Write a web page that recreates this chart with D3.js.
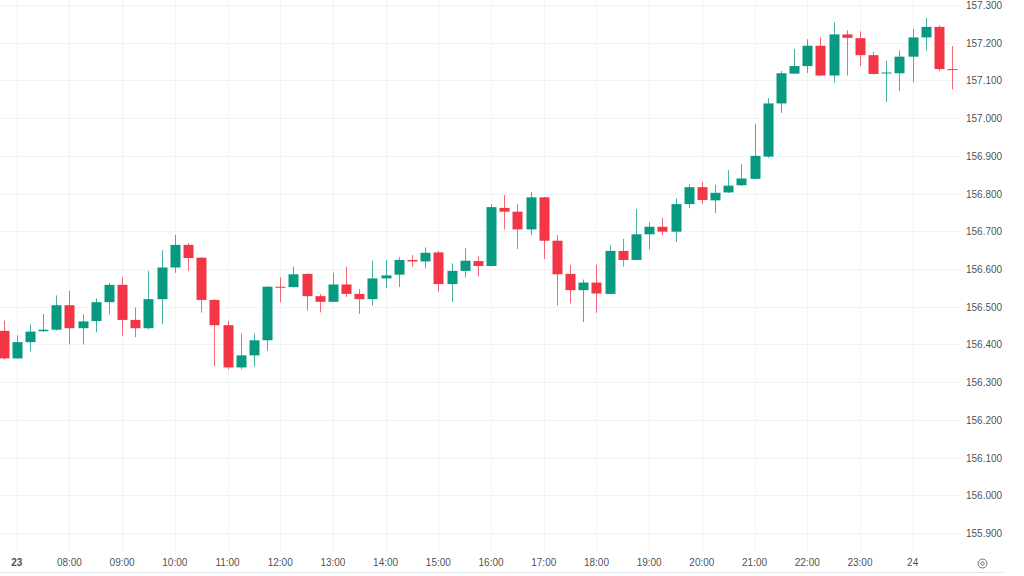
<!DOCTYPE html>
<html>
<head>
<meta charset="utf-8">
<script src="https://cdn.jsdelivr.net/npm/d3@7"></script>
<style>
  html, body { margin: 0; padding: 0; background: #ffffff; }
  svg { display: block; }
  text { font-family: "Liberation Sans", Arial, sans-serif; }
</style>
</head>
<body>
<svg id="chart" width="1024" height="576"></svg>
<script>
// ---- data (15-minute bars) ----
const times = [
  "06:45","07:00","07:15","07:30","07:45","08:00","08:15","08:30","08:45",
  "09:00","09:15","09:30","09:45","10:00","10:15","10:30","10:45",
  "11:00","11:15","11:30","11:45","12:00","12:15","12:30","12:45",
  "13:00","13:15","13:30","13:45","14:00","14:15","14:30","14:45",
  "15:00","15:15","15:30","15:45","16:00","16:15","16:30","16:45",
  "17:00","17:15","17:30","17:45","18:00","18:15","18:30","18:45",
  "19:00","19:15","19:30","19:45","20:00","20:15","20:30","20:45",
  "21:00","21:15","21:30","21:45","22:00","22:15","22:30","22:45",
  "23:00","23:15","23:30","23:45","00:00","00:15","00:30","00:45"
];
const open = [
  156.436,156.363,156.406,156.435,156.439,156.504,156.443,156.462,156.512,
  156.558,156.465,156.443,156.520,156.604,156.664,156.630,156.518,
  156.451,156.339,156.371,156.411,156.553,156.552,156.587,156.528,
  156.513,156.559,156.534,156.520,156.575,156.585,156.624,156.620,
  156.644,156.560,156.595,156.621,156.608,156.762,156.752,156.705,
  156.790,156.675,156.587,156.544,156.564,156.534,156.648,156.624,
  156.692,156.712,156.699,156.772,156.817,156.782,156.803,156.822,
  156.839,156.898,157.039,157.118,157.138,157.192,157.113,157.222,
  157.212,157.167,157.119,157.119,157.163,157.214,157.242,157.130
];
const high = [
  156.463,156.424,156.453,156.481,156.530,156.542,156.480,156.522,156.563,
  156.578,156.498,156.595,156.650,156.690,156.668,156.632,156.520,
  156.463,156.429,156.429,156.555,156.578,156.606,156.588,156.534,
  156.590,156.606,156.547,156.622,156.624,156.631,156.637,156.657,
  156.648,156.615,156.655,156.634,156.772,156.796,156.772,156.804,
  156.791,156.690,156.611,156.572,156.611,156.662,156.680,156.759,
  156.724,156.736,156.787,156.825,156.831,156.823,156.862,156.878,
  156.984,157.053,157.125,157.183,157.209,157.214,157.254,157.233,
  157.230,157.176,157.152,157.179,157.236,157.265,157.246,157.191
];
const low = [
  156.360,156.362,156.381,156.434,156.437,156.400,156.400,156.432,156.480,
  156.423,156.419,156.440,156.453,156.590,156.595,156.484,156.343,
  156.334,156.334,156.341,156.383,156.512,156.551,156.490,156.485,
  156.512,156.526,156.481,156.503,156.549,156.552,156.606,156.602,
  156.540,156.513,156.578,156.580,156.607,156.705,156.653,156.690,
  156.626,156.503,156.509,156.459,156.484,156.533,156.606,156.623,
  156.652,156.690,156.672,156.761,156.772,156.748,156.802,156.821,
  156.838,156.895,157.014,157.117,157.120,157.112,157.095,157.113,
  157.138,157.116,157.043,157.072,157.095,157.179,157.125,157.076
];
const close = [
  156.363,156.406,156.434,156.439,156.504,156.443,156.461,156.512,156.558,
  156.465,156.443,156.520,156.604,156.664,156.629,156.518,156.451,
  156.339,156.371,156.411,156.553,156.551,156.586,156.528,156.513,
  156.559,156.534,156.520,156.575,156.583,156.624,156.620,156.643,
  156.560,156.595,156.622,156.608,156.764,156.752,156.705,156.790,
  156.675,156.586,156.544,156.564,156.535,156.648,156.624,156.692,
  156.712,156.699,156.772,156.817,156.783,156.802,156.821,156.840,
  156.900,157.039,157.119,157.138,157.192,157.113,157.222,157.213,
  157.167,157.117,157.121,157.163,157.214,157.242,157.130,157.129
];
const timeTicks = ["07:00","08:00","09:00","10:00","11:00","12:00","13:00","14:00","15:00",
                   "16:00","17:00","18:00","19:00","20:00","21:00","22:00","23:00","00:00"];
const timeTickLabels = ["23","08:00","09:00","10:00","11:00","12:00","13:00","14:00","15:00",
                        "16:00","17:00","18:00","19:00","20:00","21:00","22:00","23:00","24"];
const priceTicks = [155.9,156.0,156.1,156.2,156.3,156.4,156.5,156.6,156.7,156.8,156.9,157.0,157.1,157.2,157.3];

// ---- layout ----
const W = 1024, H = 576;
const paneRight = 960, paneBottom = 552;
const UP = "#089981", DOWN = "#F23645", GRID = "#f0f3fa", TXT = "#131722";

const bars = times.map((t, i) => ({ t, o: open[i], h: high[i], l: low[i], c: close[i] }));

const step = 13.176;
const x = d3.scaleBand()
  .domain(times)
  .range([16.7 - step * 1.5, 16.7 - step * 1.5 + step * times.length])
  .padding(0);
const cx = t => x(t) + x.bandwidth() / 2;
const bodyW = 10;

const y = d3.scaleLinear().domain([155.9, 157.3]).range([533, 5]);

const svg = d3.select("#chart");
svg.append("rect").attr("width", W).attr("height", H).attr("fill", "#fff");

// grid
const grid = svg.append("g");
grid.selectAll("line.h").data(priceTicks).join("line")
  .attr("x1", 0).attr("x2", paneRight)
  .attr("y1", d => Math.round(y(d)) + 0.5).attr("y2", d => Math.round(y(d)) + 0.5)
  .attr("stroke", GRID).attr("stroke-width", 1);
grid.selectAll("line.v").data(timeTicks).join("line")
  .attr("x1", d => Math.round(cx(d)) + 0.5).attr("x2", d => Math.round(cx(d)) + 0.5)
  .attr("y1", 0).attr("y2", paneBottom)
  .attr("stroke", GRID).attr("stroke-width", 1);

// candles
const cg = svg.append("g");
const col = d => d.c >= d.o ? UP : DOWN;
cg.selectAll("line.wick").data(bars).join("line")
  .attr("x1", d => Math.round(cx(d.t)) + 0.5).attr("x2", d => Math.round(cx(d.t)) + 0.5)
  .attr("y1", d => y(d.h)).attr("y2", d => y(d.l))
  .attr("stroke", col).attr("stroke-width", 1).attr("stroke-opacity", 0.75);
cg.selectAll("rect.body").data(bars).join("rect")
  .attr("x", d => Math.round(cx(d.t)) - bodyW / 2 + 0.5)
  .attr("width", bodyW)
  .attr("y", d => y(Math.max(d.o, d.c)))
  .attr("height", d => Math.max(1, Math.abs(y(d.o) - y(d.c))))
  .attr("fill", col);

// price axis
const yAxis = d3.axisRight(y).tickValues(priceTicks).tickFormat(d3.format(".3f")).tickSize(0).tickPadding(0);
const ya = svg.append("g").attr("transform", `translate(966,0)`).call(yAxis);
ya.select(".domain").remove();
ya.selectAll("text").attr("fill", TXT).attr("font-size", 10).attr("dy", "0.35em").attr("fill-opacity", 0.8);

// time axis
const xAxis = d3.axisBottom(x).tickValues(timeTicks).tickFormat((d, i) => timeTickLabels[i]).tickSize(0).tickPadding(0);
const xa = svg.append("g").attr("transform", `translate(0,559)`).call(xAxis);
xa.select(".domain").remove();
xa.selectAll("text").attr("fill", TXT).attr("font-size", 10).attr("fill-opacity", 0.8)
  .attr("font-weight", (d, i) => i === 0 ? "bold" : "normal");

// bottom border of time axis
svg.append("line").attr("x1", 0).attr("x2", 1003).attr("y1", 572.5).attr("y2", 572.5)
  .attr("stroke", "#e0e3eb").attr("stroke-width", 1);

// settings icon
const ic = svg.append("g").attr("transform", "translate(982.5,563.5)");
ic.append("circle").attr("r", 4.5).attr("fill", "none").attr("stroke", "#6a6d78").attr("stroke-width", 1);
ic.append("circle").attr("r", 1.7).attr("fill", "none").attr("stroke", "#6a6d78").attr("stroke-width", 1);
</script>
</body>
</html>
